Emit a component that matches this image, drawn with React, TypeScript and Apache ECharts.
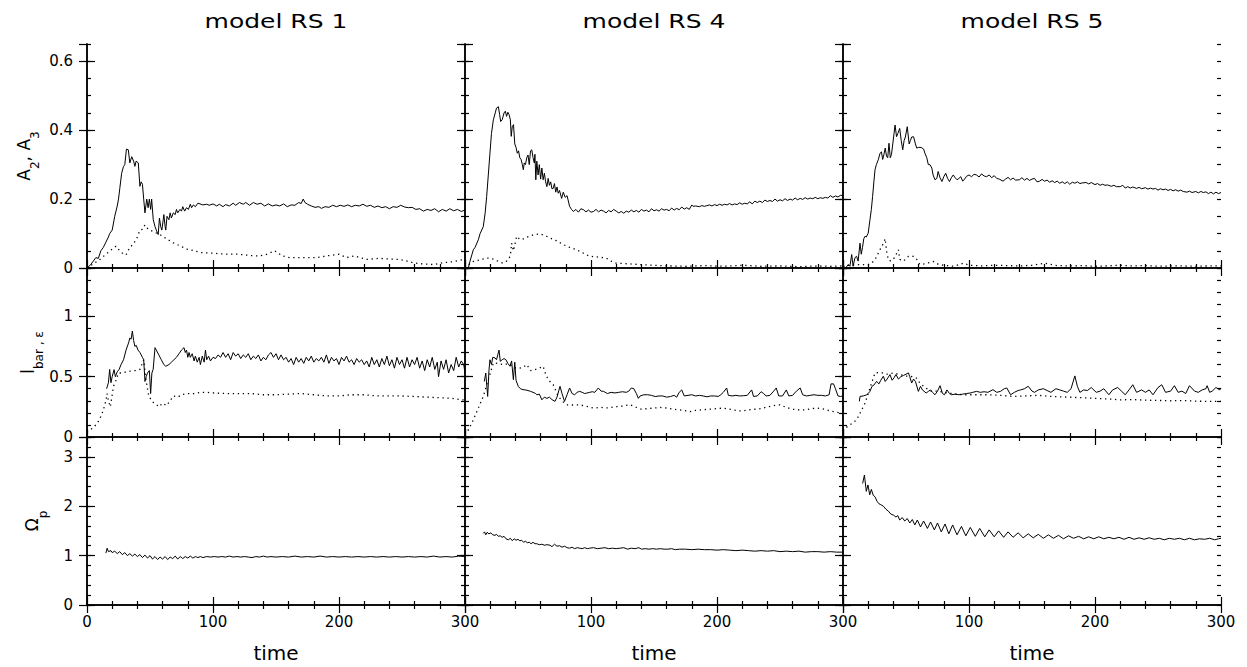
import React, { useEffect, useRef } from "react";
import * as echarts from "echarts";

// ---------- text ----------
const modelTitles = ["model RS 1", "model RS 4", "model RS 5"];
const xAxisTitle = "time";
const rowNames = ["{a|A}{s|2}{a|, A}{s|3}", "{a|l}{s|bar , ε}", "{a|Ω}{s|p}"];

// ---------- axes ----------
const timeMin = 0;
const timeMax = 300;
const timeMajor = 100;
const rowMax = [0.65, 1.4, 3.4];
const rowMajor = [0.2, 0.5, 1];
const rowMinor = [0.05, 0.1, 0.2];

// ---------- data: [time, value] ----------
const rs1A2 = [[0,0],[3,0.01],[5,0.02],[7,0.03],[9,0.028],[11,0.05],[13,0.06],[15,0.075],[17,0.09],[18,0.1],[20,0.11],[22,0.15],[24,0.18],[25,0.2],[26,0.23],[27.5,0.275],[29,0.295],[30,0.3],[31.3,0.345],[32.8,0.343],[34,0.305],[35.5,0.323],[37,0.31],[38,0.295],[39,0.31],[40.7,0.305],[42,0.237],[43,0.25],[44,0.243],[45,0.2],[46,0.16],[47.4,0.2],[48.5,0.175],[49.5,0.2],[50.5,0.17],[51.3,0.2],[52.6,0.14],[54,0.12],[55,0.11],[56.5,0.097],[57.5,0.145],[58.5,0.12],[59.4,0.11],[60.5,0.14],[61,0.155],[62,0.12],[62.5,0.11],[63.5,0.15],[65,0.14],[66,0.16],[67,0.145],[68.5,0.16],[70,0.155],[71,0.17],[72,0.16],[73.8,0.17],[75,0.165],[76,0.178],[77.5,0.165],[79,0.175],[80.5,0.17],[82,0.185],[83,0.175],[84.4,0.183],[86,0.178],[88,0.188],[89.7,0.186],[92,0.183],[95,0.185],[97,0.182],[100,0.186],[103,0.18],[105,0.185],[108,0.178],[110,0.184],[113,0.18],[116,0.188],[118,0.182],[121,0.19],[124,0.185],[126,0.19],[129,0.182],[132,0.19],[135,0.185],[138,0.188],[141,0.18],[144,0.186],[147,0.18],[150,0.183],[153,0.18],[156,0.186],[159,0.178],[162,0.183],[165,0.182],[168,0.19],[170,0.187],[171.6,0.2],[173,0.19],[175,0.185],[178,0.18],[181,0.176],[184,0.178],[186,0.173],[189,0.178],[192,0.176],[195,0.182],[198,0.178],[201,0.182],[204,0.179],[207,0.183],[210,0.178],[213,0.182],[216,0.18],[219,0.185],[222,0.179],[225,0.182],[228,0.176],[231,0.18],[234,0.175],[237,0.178],[240,0.172],[243,0.178],[246,0.176],[249,0.182],[252,0.177],[255,0.175],[258,0.176],[261,0.17],[264,0.172],[267,0.165],[270,0.17],[273,0.167],[276,0.172],[279,0.163],[282,0.17],[285,0.165],[288,0.172],[291,0.166],[294,0.17],[297,0.164],[300,0.168]];
const rs1A3 = [[0,0],[5,0.012],[10,0.024],[15,0.04],[20,0.055],[23,0.063],[26,0.05],[29,0.04],[31,0.038],[34,0.06],[37,0.07],[40,0.09],[42,0.11],[44,0.112],[46,0.125],[48,0.115],[50,0.11],[54,0.103],[58,0.097],[63,0.085],[68.5,0.073],[74,0.064],[79,0.055],[85,0.05],[90,0.045],[100,0.043],[110,0.04],[120,0.04],[130,0.036],[137,0.035],[143,0.04],[149,0.05],[155,0.035],[161,0.03],[170,0.03],[182,0.03],[190,0.035],[200,0.04],[206,0.03],[212,0.035],[222,0.025],[232,0.028],[240,0.026],[248,0.025],[254,0.02],[259,0.015],[266,0.012],[275,0.01],[282,0.015],[290,0.018],[295,0.022],[300,0.025]];
const rs1Bar = [[15.6,0.4],[17,0.45],[18,0.56],[19,0.45],[20,0.5],[21.5,0.558],[22.5,0.5],[24,0.54],[25.5,0.56],[27,0.6],[29,0.64],[31,0.72],[33,0.78],[34,0.82],[35,0.81],[36,0.878],[37,0.8],[38,0.75],[39,0.76],[40.5,0.72],[42,0.7],[44,0.66],[45,0.64],[46,0.46],[47,0.5],[48,0.53],[49.5,0.55],[50.5,0.36],[51.5,0.53],[52.5,0.56],[54,0.74],[55,0.72],[57,0.68],[59,0.64],[61,0.6],[62.5,0.586],[65,0.6],[67,0.62],[69,0.64],[71,0.66],[73,0.69],[75,0.72],[77,0.74],[78,0.7],[79,0.72],[80,0.66],[81,0.7],[82,0.66],[83.5,0.69],[85,0.63],[86,0.67],[87.5,0.62],[89,0.66],[90,0.6],[91.5,0.67],[93,0.62],[94,0.72],[95,0.64],[96.5,0.67],[98,0.63],[100,0.66],[102,0.65],[104,0.68],[106,0.66],[108,0.7],[110,0.66],[112,0.69],[114,0.64],[116,0.7],[118,0.67],[120,0.69],[122,0.65],[124,0.68],[126,0.66],[128,0.69],[130,0.64],[132,0.67],[134,0.65],[136,0.68],[138,0.63],[140,0.66],[142,0.64],[144,0.68],[146,0.7],[148,0.66],[150,0.69],[152,0.64],[154,0.68],[156,0.64],[158,0.66],[160,0.62],[162,0.65],[164,0.6],[166,0.66],[168,0.62],[170,0.65],[172,0.61],[174,0.66],[176,0.63],[178,0.67],[180,0.62],[182,0.65],[184,0.63],[186,0.66],[188,0.62],[190,0.68],[192,0.61],[194,0.66],[196,0.63],[198,0.65],[200,0.6],[202,0.66],[204,0.63],[206,0.67],[208,0.62],[210,0.64],[212,0.6],[214,0.65],[216,0.62],[218,0.64],[220,0.6],[222,0.63],[224,0.58],[226,0.66],[228,0.6],[230,0.64],[232,0.58],[234,0.65],[236,0.6],[238,0.67],[240,0.59],[242,0.64],[244,0.57],[246,0.66],[248,0.6],[250,0.64],[252,0.57],[254,0.66],[256,0.58],[258,0.64],[260,0.6],[262,0.66],[264,0.57],[266,0.63],[268,0.55],[270,0.64],[272,0.58],[274,0.66],[276,0.56],[278,0.62],[279,0.5],[281,0.63],[283,0.56],[285,0.64],[287,0.53],[289,0.6],[291,0.55],[293,0.66],[295,0.58],[297,0.63],[299,0.6],[300,0.53]];
const rs1Eps = [[0,0.04],[4,0.07],[8,0.11],[11,0.17],[13,0.225],[15,0.3],[16,0.36],[17,0.3],[18.5,0.25],[20,0.35],[21,0.42],[23,0.47],[25,0.53],[28,0.53],[31,0.54],[34,0.545],[38,0.55],[42,0.56],[45,0.64],[46.5,0.5],[48,0.4],[49,0.34],[52,0.29],[55,0.27],[57,0.25],[60,0.28],[63,0.26],[66,0.3],[68.5,0.34],[72,0.33],[75,0.35],[79,0.36],[85,0.36],[90,0.37],[95,0.37],[100,0.365],[110,0.36],[120,0.36],[130,0.36],[140,0.35],[150,0.35],[160,0.355],[170,0.36],[180,0.35],[190,0.34],[200,0.34],[210,0.35],[220,0.35],[230,0.34],[240,0.34],[250,0.34],[260,0.335],[270,0.33],[280,0.325],[290,0.32],[300,0.305]];
const rs1Om = [[15,1.05],[16,1.15],[17,1.08],[19,1.1],[20,1.06],[22,1.09],[24,1.04],[26,1.08],[28,1.02],[30,1.06],[32,1.0],[34,1.04],[36,0.99],[38,1.03],[40,0.98],[42,1.02],[44,0.96],[46,1.01],[48,0.95],[50,1.0],[52,0.93],[54,0.98],[56,0.92],[58,0.97],[60,0.93],[62,0.98],[64,0.92],[66,0.97],[68,0.94],[70,0.99],[72,0.93],[74,0.98],[76,0.94],[78,0.98],[80,0.95],[82,0.99],[84,0.95],[86,0.98],[88,0.96],[90,0.98],[92,0.96],[95,0.98],[98,0.97],[101,0.98],[104,0.97],[107,0.98],[110,0.97],[113,0.99],[116,0.97],[119,0.98],[122,0.97],[125,0.98],[128,0.97],[131,0.96],[134,0.98],[137,0.97],[140,0.99],[143,0.97],[146,0.98],[150,0.97],[155,0.98],[160,0.97],[165,0.99],[170,0.97],[175,0.98],[180,0.97],[185,0.99],[190,0.97],[195,0.98],[200,0.97],[205,0.98],[210,0.97],[215,0.98],[220,0.97],[225,0.98],[230,0.97],[235,0.98],[240,0.97],[245,0.98],[250,0.97],[255,0.98],[260,0.97],[265,0.98],[270,0.97],[275,0.99],[280,0.97],[285,0.98],[290,0.97],[295,0.99],[300,0.98]];

const rs4A2 = [[0,0],[2.6,0.0],[4,0.02],[6.6,0.053],[8,0.06],[10.6,0.082],[12,0.1],[14.5,0.12],[16,0.16],[17.2,0.208],[18.5,0.27],[19.8,0.333],[21,0.39],[22.5,0.43],[24,0.45],[25,0.464],[26.5,0.468],[27.5,0.445],[28.3,0.425],[29.5,0.43],[31,0.45],[32,0.455],[33,0.44],[34,0.452],[35,0.445],[36,0.43],[36.7,0.382],[37.5,0.41],[38.5,0.416],[39.5,0.36],[40.5,0.35],[41.5,0.333],[42.5,0.34],[43.5,0.32],[44.5,0.315],[45.5,0.3],[46.3,0.285],[47,0.305],[48,0.3],[49,0.32],[50,0.328],[51,0.3],[52,0.34],[53,0.343],[54,0.32],[55,0.305],[55.5,0.33],[56.2,0.256],[57,0.31],[58,0.27],[59,0.3],[60,0.258],[61,0.29],[62,0.256],[63,0.275],[64,0.25],[65,0.236],[66,0.26],[67,0.24],[68,0.25],[69,0.23],[70,0.231],[71,0.245],[72,0.22],[73,0.235],[74,0.217],[75,0.225],[76.7,0.202],[78,0.22],[79.5,0.205],[81,0.21],[83,0.179],[84.5,0.17],[86,0.164],[88,0.17],[90,0.162],[92,0.172],[94,0.169],[96,0.163],[98,0.168],[100,0.162],[102,0.164],[104,0.17],[106,0.163],[108,0.168],[110,0.165],[112,0.16],[114,0.167],[116,0.163],[118,0.17],[120,0.165],[122,0.16],[124,0.164],[126,0.159],[128,0.165],[130,0.162],[132,0.168],[134,0.163],[136,0.167],[138,0.162],[140,0.17],[142,0.165],[144,0.168],[146,0.163],[148,0.172],[150,0.166],[152,0.169],[154,0.165],[156,0.172],[158,0.168],[160,0.17],[162,0.166],[164,0.174],[166,0.168],[168,0.173],[170,0.169],[172,0.177],[174,0.171],[176,0.175],[178,0.17],[180,0.183],[181,0.179],[183,0.18],[186,0.178],[188,0.181],[190,0.179],[192,0.181],[194,0.183],[196,0.18],[198,0.184],[200,0.181],[202,0.185],[204,0.182],[206,0.185],[208,0.183],[210,0.187],[212,0.183],[214,0.186],[216,0.184],[218,0.189],[220,0.185],[222,0.188],[224,0.186],[226,0.192],[228,0.186],[230,0.194],[232,0.19],[234,0.194],[236,0.19],[238,0.197],[240,0.193],[242,0.196],[244,0.193],[246,0.2],[248,0.194],[250,0.198],[252,0.195],[254,0.201],[256,0.196],[258,0.2],[260,0.197],[262,0.203],[264,0.198],[266,0.202],[268,0.199],[270,0.204],[272,0.2],[274,0.203],[276,0.201],[278,0.205],[280,0.201],[282,0.204],[284,0.202],[286,0.205],[288,0.203],[290,0.21],[292,0.205],[294,0.209],[296,0.206],[298,0.211],[300,0.21]];
const rs4A3 = [[0,0],[3,0.01],[6.6,0.019],[10,0.022],[13,0.025],[17,0.029],[20,0.028],[23,0.025],[26.5,0.019],[30,0.014],[33,0.02],[36,0.034],[37,0.072],[38.5,0.05],[40,0.075],[41,0.092],[43,0.085],[45,0.082],[48,0.088],[51.6,0.093],[55,0.097],[59.5,0.099],[63,0.095],[67.5,0.087],[72,0.08],[78,0.068],[83,0.06],[88.6,0.053],[94,0.043],[99,0.034],[105,0.032],[112,0.029],[116,0.02],[120,0.014],[130,0.012],[139,0.01],[150,0.008],[160,0.006],[175,0.005],[190,0.007],[205,0.005],[220,0.008],[235,0.005],[250,0.006],[265,0.004],[280,0.006],[290,0.005],[300,0.006]];
const rs4Bar = [[15.3,0.46],[16.5,0.53],[17.5,0.4],[18,0.336],[19,0.55],[19.8,0.64],[21,0.6],[22,0.66],[23.8,0.655],[25,0.64],[26,0.68],[27,0.72],[28,0.627],[29.5,0.64],[31,0.65],[32.5,0.64],[34,0.61],[35.7,0.586],[37,0.63],[38.4,0.475],[39.5,0.62],[40.5,0.47],[42.3,0.419],[44,0.4],[46,0.392],[48,0.39],[50,0.385],[52,0.378],[54,0.37],[56,0.36],[57,0.35],[59,0.355],[61,0.308],[63,0.33],[65,0.32],[67,0.33],[69,0.31],[71.4,0.295],[73,0.33],[75.4,0.42],[77,0.36],[79,0.295],[81,0.35],[83,0.406],[85,0.36],[87,0.35],[89,0.37],[91,0.378],[93,0.37],[95,0.36],[96.6,0.364],[99,0.37],[101,0.375],[103,0.37],[105.8,0.406],[108,0.38],[110,0.378],[113,0.36],[116,0.37],[119,0.365],[122,0.37],[125,0.375],[128,0.37],[130,0.38],[132,0.406],[134,0.4],[136,0.36],[137.6,0.32],[139,0.34],[142,0.35],[145,0.35],[148,0.345],[151,0.335],[154,0.34],[157,0.34],[160,0.33],[163,0.335],[166,0.345],[168,0.33],[170,0.37],[172,0.39],[174,0.34],[177,0.345],[180,0.35],[183,0.34],[186,0.345],[189,0.34],[192,0.333],[195,0.34],[198,0.34],[201,0.336],[203,0.35],[205,0.37],[207.7,0.406],[209,0.345],[212,0.34],[215,0.345],[218,0.34],[221,0.342],[224,0.345],[227.5,0.39],[229,0.336],[232,0.34],[235,0.375],[237,0.36],[239,0.34],[242,0.345],[245,0.38],[247,0.406],[249,0.34],[252,0.34],[255,0.39],[257,0.34],[260,0.345],[263,0.38],[266,0.406],[268,0.35],[271,0.34],[274,0.345],[277,0.35],[280,0.345],[283,0.345],[286,0.34],[289,0.35],[290.5,0.44],[292.5,0.44],[294,0.4],[296,0.34],[298,0.336],[300,0.34]];
const rs4Eps = [[0,0.02],[2.6,0.058],[6.6,0.142],[10.6,0.24],[14.5,0.336],[18.5,0.475],[22.5,0.614],[26,0.61],[30,0.6],[34,0.605],[37,0.59],[39.7,0.572],[43,0.57],[46,0.575],[49,0.6],[52,0.55],[56,0.56],[59,0.57],[62,0.586],[64,0.52],[66,0.475],[70,0.433],[74,0.336],[78,0.29],[80.7,0.267],[85,0.265],[91,0.267],[96,0.255],[102,0.24],[108,0.245],[114,0.24],[118,0.25],[123,0.253],[127,0.26],[131,0.267],[135,0.25],[140,0.23],[145,0.235],[150,0.24],[155,0.245],[160,0.24],[165,0.23],[170,0.225],[174,0.22],[178.6,0.211],[183,0.22],[188,0.225],[193,0.23],[200,0.235],[205,0.24],[210,0.23],[215,0.22],[220,0.215],[225,0.225],[230,0.23],[235,0.235],[240,0.25],[245,0.26],[250,0.267],[255,0.245],[260,0.23],[265,0.225],[270,0.225],[275,0.235],[280,0.24],[285,0.23],[290,0.215],[295,0.205],[300,0.197]];
const rs4Om = [[14.5,1.45],[15.5,1.48],[16.5,1.42],[17.5,1.47],[19,1.44],[20.5,1.46],[22,1.42],[23.8,1.41],[25,1.43],[26.5,1.39],[28,1.4],[29.5,1.37],[31,1.39],[32.5,1.34],[34.4,1.32],[36,1.35],[37.5,1.3],[39,1.34],[40.5,1.31],[42,1.33],[43.5,1.3],[45,1.31],[46.5,1.27],[48,1.29],[49.5,1.26],[51,1.27],[52.5,1.24],[54,1.27],[55.5,1.24],[57,1.24],[59,1.22],[61,1.23],[63,1.21],[65,1.22],[67.5,1.21],[69,1.18],[71,1.23],[73,1.19],[75,1.2],[77,1.17],[79,1.19],[81,1.16],[83,1.15],[85,1.17],[87,1.14],[89,1.16],[91,1.15],[93,1.14],[95,1.16],[97,1.14],[99,1.15],[102,1.16],[105,1.14],[108,1.15],[111,1.16],[114,1.14],[117,1.15],[120,1.14],[123,1.15],[126,1.16],[129,1.13],[132,1.15],[135,1.14],[138,1.16],[140,1.13],[143,1.14],[146,1.13],[149,1.14],[152,1.13],[155,1.14],[158,1.13],[161,1.13],[164,1.14],[167,1.12],[170,1.13],[175,1.13],[180,1.12],[185,1.13],[190,1.12],[195,1.12],[200,1.11],[205,1.12],[210,1.11],[215,1.1],[220,1.11],[225,1.1],[230,1.09],[235,1.1],[240,1.09],[245,1.1],[250,1.08],[255,1.09],[260,1.08],[265,1.09],[270,1.07],[275,1.08],[280,1.08],[285,1.07],[290,1.08],[295,1.07],[300,1.07]];

const rs5A2 = [[0,0.005],[2,0.0],[4.2,0.01],[5.5,0.005],[6.9,0.039],[8,0.005],[9.5,0.03],[10.8,0.034],[12,0.02],[13.5,0.072],[14.5,0.04],[15.5,0.06],[16.5,0.085],[17.5,0.092],[18.5,0.09],[20,0.101],[21.4,0.14],[22.5,0.17],[23.5,0.208],[24.5,0.25],[25.4,0.285],[26.5,0.3],[28,0.314],[29.4,0.333],[30.5,0.337],[31.5,0.315],[32.5,0.33],[33.5,0.348],[34.5,0.325],[35.5,0.32],[36.5,0.362],[37.5,0.32],[38.5,0.33],[39.5,0.36],[40.5,0.39],[41.3,0.415],[42.5,0.381],[43.5,0.39],[45,0.405],[46.2,0.37],[47.4,0.343],[48.5,0.37],[49.5,0.38],[51,0.41],[52.5,0.36],[53.5,0.37],[54.5,0.38],[56,0.381],[57.5,0.36],[58.5,0.348],[60,0.35],[62,0.35],[64,0.345],[65,0.333],[66.5,0.32],[67.7,0.3],[69,0.3],[70.5,0.29],[71.5,0.27],[73,0.256],[74.5,0.26],[75.5,0.28],[77,0.262],[78.5,0.251],[80,0.265],[81.5,0.275],[83,0.26],[84.5,0.251],[86,0.262],[87.5,0.27],[89,0.262],[90.5,0.256],[92,0.26],[93.5,0.265],[95,0.252],[96.5,0.258],[98,0.266],[100,0.27],[102,0.265],[104,0.272],[106,0.27],[108,0.264],[110,0.273],[112,0.267],[114,0.265],[116,0.27],[118,0.262],[120,0.268],[122,0.26],[124,0.258],[127,0.252],[129,0.258],[131,0.263],[133,0.256],[135,0.261],[137,0.255],[140,0.256],[142,0.262],[144,0.255],[146,0.26],[148,0.254],[150,0.258],[152,0.26],[154,0.25],[156,0.252],[158,0.257],[160,0.252],[162,0.255],[164,0.249],[166,0.253],[168,0.248],[170,0.252],[172,0.246],[174,0.25],[176,0.245],[178,0.25],[180,0.243],[182,0.249],[184,0.246],[186,0.25],[188,0.245],[190,0.247],[193,0.248],[195,0.244],[197,0.248],[200,0.242],[202,0.245],[204,0.24],[206,0.243],[208,0.24],[210,0.241],[213,0.237],[215,0.24],[217,0.236],[220,0.236],[222,0.24],[224,0.232],[226,0.236],[228,0.232],[230,0.235],[233,0.231],[235,0.234],[237,0.23],[240,0.233],[242,0.229],[244,0.232],[246,0.229],[248,0.231],[250,0.226],[252,0.23],[254,0.227],[256,0.229],[258,0.225],[260,0.228],[262,0.224],[264,0.227],[266,0.223],[268,0.226],[270,0.222],[273,0.22],[275,0.223],[277,0.219],[280,0.222],[282,0.218],[284,0.222],[286,0.219],[288,0.221],[290,0.216],[292,0.22],[294,0.215],[296,0.22],[298,0.216],[300,0.219]];
const rs5A3 = [[0,0.005],[5,0.008],[10,0.01],[15,0.01],[20,0.01],[23,0.015],[25.4,0.024],[28,0.043],[30.7,0.063],[32,0.07],[33.5,0.085],[34.5,0.05],[36,0.024],[38,0.02],[41,0.03],[44,0.053],[45,0.025],[48,0.02],[52,0.034],[56,0.034],[58.5,0.025],[61,0.01],[65,0.012],[71.7,0.019],[76,0.01],[80,0.008],[88,0.005],[95.5,0.014],[100,0.008],[110,0.006],[120,0.008],[130,0.007],[140,0.006],[150,0.008],[160,0.014],[170,0.007],[180,0.006],[190,0.007],[200,0.005],[210,0.006],[220,0.008],[230,0.006],[240,0.007],[250,0.005],[260,0.006],[270,0.006],[280,0.005],[290,0.006],[300,0.006]];
const rs5Bar = [[13,0.295],[13.5,0.336],[16,0.34],[18.8,0.35],[20,0.36],[21.4,0.378],[23,0.42],[24.5,0.43],[26.7,0.461],[28.5,0.44],[30,0.47],[32,0.503],[33.5,0.46],[35,0.48],[37.3,0.517],[39,0.47],[40.5,0.49],[42,0.517],[44,0.48],[46,0.5],[48,0.51],[50,0.52],[51.9,0.531],[53,0.5],[54.5,0.447],[56,0.48],[57.5,0.46],[59.8,0.378],[61.5,0.42],[63,0.39],[66,0.364],[68,0.38],[69.5,0.39],[71,0.37],[73,0.35],[75,0.38],[77,0.425],[79,0.36],[80.5,0.35],[82.5,0.39],[84.5,0.36],[86,0.35],[89,0.355],[92,0.35],[95,0.355],[98,0.36],[100.8,0.364],[103,0.37],[106,0.378],[109,0.37],[112,0.375],[115,0.37],[119,0.392],[122,0.37],[125,0.378],[128,0.4],[130,0.406],[133,0.35],[136,0.37],[139,0.385],[141,0.39],[144,0.4],[147,0.42],[150,0.38],[152,0.37],[155,0.39],[159,0.4],[162,0.385],[165,0.37],[169,0.4],[172,0.39],[175,0.38],[178,0.37],[181,0.4],[184,0.506],[186,0.42],[188,0.37],[191,0.39],[194,0.385],[197,0.41],[201,0.37],[204,0.38],[207,0.4],[211,0.35],[214,0.39],[218,0.41],[221,0.38],[224,0.35],[227,0.39],[230,0.433],[233,0.37],[237,0.39],[240,0.37],[243,0.39],[246,0.35],[250,0.41],[253,0.433],[256,0.37],[260,0.38],[263,0.425],[266,0.37],[269,0.38],[272,0.36],[275,0.425],[279,0.38],[282,0.37],[285,0.39],[288,0.4],[289,0.425],[291,0.37],[293,0.38],[296,0.41],[299,0.39],[300,0.406]];
const rs5Eps = [[0,0.05],[1.6,0.072],[5.5,0.1],[10.8,0.142],[13.5,0.197],[17.5,0.28],[21.4,0.406],[25.4,0.531],[30,0.535],[35,0.52],[40,0.53],[45,0.517],[50,0.505],[55,0.5],[58,0.49],[61,0.447],[65,0.41],[70,0.38],[75,0.38],[80,0.37],[87.6,0.358],[95,0.35],[105,0.35],[115,0.35],[125,0.345],[135,0.336],[145,0.34],[155,0.345],[165,0.336],[180,0.33],[190,0.325],[200,0.32],[210,0.315],[220,0.308],[230,0.31],[240,0.305],[250,0.303],[260,0.3],[270,0.302],[280,0.297],[290,0.295],[300,0.295]];
const rs5Om = [[15.6,2.46],[17,2.63],[18.5,2.3],[19.8,2.43],[21.2,2.23],[22.5,2.34],[24,2.22],[25.4,2.19],[27,2.1],[28.5,2.05],[30,2.03],[32,2.0],[34,1.94],[36,1.9],[38,1.84],[40,1.82],[42,1.78],[43.5,1.81],[45,1.72],[47,1.77],[49,1.7],[51,1.75],[53,1.66],[55,1.73],[57,1.62],[59,1.72],[61.5,1.58],[64,1.7],[67,1.55],[69.5,1.68],[72.5,1.52],[75,1.66],[78,1.48],[81,1.64],[84,1.44],[87,1.62],[90.5,1.42],[94,1.59],[97.5,1.4],[101,1.57],[105,1.39],[108.5,1.55],[112.5,1.38],[116,1.52],[120,1.38],[123.5,1.5],[127.5,1.37],[131,1.48],[135,1.37],[139,1.46],[143,1.36],[147,1.44],[151,1.36],[155,1.43],[159,1.35],[163,1.42],[167,1.35],[171,1.41],[175,1.34],[179,1.4],[183,1.35],[187,1.39],[191,1.34],[195,1.38],[199,1.34],[203,1.38],[207,1.34],[211,1.37],[215,1.34],[219,1.37],[223,1.33],[227,1.37],[231,1.33],[235,1.36],[239,1.33],[243,1.36],[247,1.33],[251,1.35],[255,1.32],[259,1.35],[263,1.33],[267,1.35],[271,1.32],[275,1.35],[279,1.32],[283,1.34],[287,1.33],[291,1.35],[295,1.32],[298,1.34],[300,1.35]];

const panelSeries = [
  [[rs1A2, rs1A3], [rs4A2, rs4A3], [rs5A2, rs5A3]],
  [[rs1Bar, rs1Eps], [rs4Bar, rs4Eps], [rs5Bar, rs5Eps]],
  [[rs1Om], [rs4Om], [rs5Om]],
];

// ---------- layout ----------
const colLeft = [87, 465, 843];
const colWidth = 378;
const rowTop = [44, 268, 437];
const rowHeight = [224, 169, 168];
const nameGaps = [52, 45, 44];

const FONT = '"DejaVu Sans", "Liberation Sans", sans-serif';

function buildOption() {
  const grid: any[] = [];
  const xAxis: any[] = [];
  const yAxis: any[] = [];
  const series: any[] = [];
  const axisLine = { show: true, lineStyle: { color: "#000", width: 1.5 } };
  const tickStyle = { color: "#000", width: 1.2 };

  for (let r = 0; r < 3; r++) {
    for (let c = 0; c < 3; c++) {
      const p = r * 3 + c;
      const rect = { left: colLeft[c], top: rowTop[r], width: colWidth, height: rowHeight[r], containLabel: false };
      grid[p] = { ...rect };
      grid[9 + p] = { ...rect };

      const xBase = {
        type: "value", gridIndex: p, min: timeMin, max: timeMax, interval: timeMajor,
        axisLine, splitLine: { show: false }, minorSplitLine: { show: false },
        axisTick: { show: true, inside: true, length: 8, lineStyle: tickStyle },
        minorTick: { show: true, splitNumber: 5, length: 4, lineStyle: tickStyle },
      };
      xAxis[2 * p] = {
        ...xBase, position: "bottom",
        axisLabel: { show: r === 2, margin: 9, fontSize: 15, fontFamily: FONT, color: "#000", showMinLabel: c === 0 },
      };
      xAxis[2 * p + 1] = { ...xBase, position: "top", axisLabel: { show: false } };
      xAxis[18 + p] = { type: "value", gridIndex: 9 + p, min: timeMin, max: timeMax, show: false };

      const yBase = {
        type: "value", gridIndex: p, min: 0, max: rowMax[r], interval: rowMajor[r],
        axisLine, splitLine: { show: false },
        axisTick: { show: true, inside: true, length: 8, lineStyle: tickStyle },
      };
      yAxis[2 * p] = {
        ...yBase, position: "left",
        axisLabel: { show: c === 0, margin: 14, fontSize: 15, fontFamily: FONT, color: "#000", showMaxLabel: false },
        name: c === 0 ? rowNames[r] : "",
        nameLocation: "middle", nameRotate: 90, nameGap: nameGaps[r],
        nameTextStyle: {
          color: "#000", fontFamily: FONT,
          rich: {
            a: { fontSize: 17, lineHeight: 20, verticalAlign: "top", fontFamily: FONT, color: "#000" },
            s: { fontSize: 12, lineHeight: 13, padding: [14, 0, 0, 0], verticalAlign: "top", fontFamily: FONT, color: "#000" },
          },
        },
      };
      yAxis[2 * p + 1] = { ...yBase, position: "right", axisLabel: { show: false } };

      const yMinor = {
        type: "value", gridIndex: 9 + p, min: 0, max: rowMax[r], interval: rowMinor[r],
        axisLine: { show: false }, splitLine: { show: false }, axisLabel: { show: false },
        axisTick: { show: true, inside: true, length: 4, lineStyle: tickStyle },
      };
      yAxis[18 + 2 * p] = { ...yMinor, position: "left" };
      yAxis[18 + 2 * p + 1] = { ...yMinor, position: "right" };

      panelSeries[r][c].forEach((data, k) => {
        series.push({
          type: "line", xAxisIndex: 2 * p, yAxisIndex: 2 * p, data,
          showSymbol: false, symbol: "none", silent: true,
          lineStyle: k === 0
            ? { color: "#000", width: 1, type: "solid" }
            : { color: "#000", width: 1.3, type: [1.3, 3.7] },
        });
      });
    }
  }

  const graphic: any[] = [];
  for (let c = 0; c < 3; c++) {
    const cx = colLeft[c] + colWidth / 2;
    graphic.push({
      type: "text", x: cx, y: 21, scaleX: 1.25,
      style: { text: modelTitles[c], fontSize: 20, fontFamily: FONT, fill: "#000", textAlign: "center", textVerticalAlign: "middle", align: "center", verticalAlign: "middle" },
    });
    graphic.push({
      type: "text", x: cx, y: 653,
      style: { text: xAxisTitle, fontSize: 20, fontFamily: FONT, fill: "#000", textAlign: "center", textVerticalAlign: "middle", align: "center", verticalAlign: "middle" },
    });
  }

  return { animation: false, backgroundColor: "#fff", grid, xAxis, yAxis, series, graphic };
}

export default function App() {
  const ref = useRef<HTMLDivElement>(null);
  useEffect(() => {
    if (!ref.current) return;
    const chart = echarts.init(ref.current, null, { renderer: "svg" });
    chart.setOption(buildOption());
    return () => chart.dispose();
  }, []);
  return <div ref={ref} style={{ position: "absolute", left: 0, top: 0, width: 1247, height: 667 }} />;
}
